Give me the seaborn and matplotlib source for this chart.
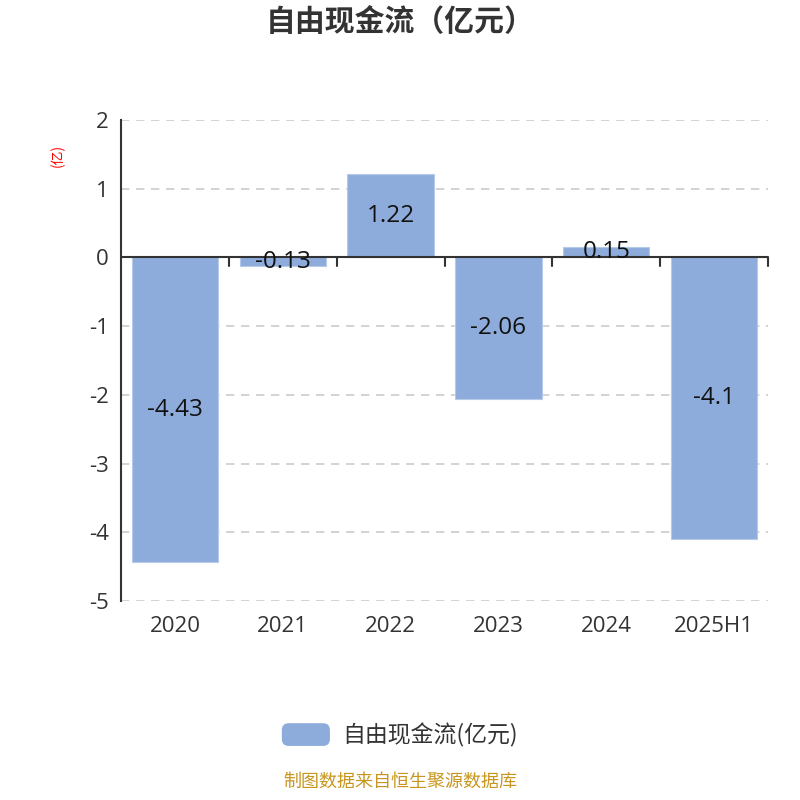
import matplotlib
matplotlib.use("Agg")
import matplotlib.pyplot as plt
import seaborn as sns
import pandas as pd
from matplotlib.patches import FancyBboxPatch
from matplotlib.legend_handler import HandlerPatch

# data
years = ["2020", "2021", "2022", "2023", "2024", "2025H1"]
fcf = [-4.43, -0.13, 1.22, -2.06, 0.15, -4.1]
bar_labels = ["-4.43", "-0.13", "1.22", "-2.06", "0.15", "-4.1"]
yticks = [2, 1, 0, -1, -2, -3, -4, -5]

sns.set_style("white")
plt.rcParams["font.family"] = ["Noto Sans CJK SC", "DejaVu Sans"]
plt.rcParams["axes.unicode_minus"] = False
num_font = ["Open Sans", "Noto Sans CJK SC"]

df = pd.DataFrame({"year": years, "fcf": fcf})
bar_color = "#8eacdb"


class RoundHandler(HandlerPatch):
    # rounded legend swatch like the original
    def create_artists(self, legend, orig_handle, xdescent, ydescent,
                       width, height, fontsize, trans):
        p = FancyBboxPatch((-xdescent, -ydescent), width, height,
                           boxstyle="round,pad=0,rounding_size=5",
                           facecolor=bar_color, edgecolor="none",
                           transform=trans)
        return [p]


fig = plt.figure(figsize=(8, 8), dpi=100)
ax = fig.add_axes([0.15125, 0.24875, 0.80875, 0.60125])

sns.barplot(data=df, x="year", y="fcf", color=bar_color, saturation=1,
            width=0.8, edgecolor="#b5c9e8", linewidth=0.8, ax=ax,
            label="自由现金流(亿元)")

ax.set_ylim(-5, 2)
ax.set_xlim(-0.5, len(years) - 0.5)
ax.set_yticks(yticks)
ax.set_yticklabels([str(v) for v in yticks], fontsize=16, color="#333333",
                   family=num_font)
ax.set_xticks(range(len(years)))
ax.set_xticklabels(years, fontsize=16, color="#333333", family=num_font)
ax.tick_params(axis="y", length=6, width=1.5, color="#333333", pad=3)
ax.tick_params(axis="x", length=0, pad=11)
ax.set_xlabel("")
ax.set_ylabel("")

for v in yticks:
    if v != 0:
        ax.axhline(v, color="#cccccc", lw=1.2, ls=(0, (5, 4)), zorder=0)

for s in ["top", "right", "bottom"]:
    ax.spines[s].set_visible(False)
ax.spines["left"].set_color("#333333")
ax.spines["left"].set_linewidth(1.5)

# category axis line at zero with ticks between categories
ax.axhline(0, color="#333333", lw=1.5, zorder=3)
for i in range(len(years)):
    ax.plot([i + 0.5, i + 0.5], [0, -0.12], color="#333333", lw=1.5,
            zorder=3, clip_on=False)

for i, (v, t) in enumerate(zip(fcf, bar_labels)):
    ax.text(i, v / 2, t, ha="center", va="center", fontsize=17.5,
            color="#111111", zorder=4, family=num_font)

fig.text(0.5, 0.972, "自由现金流（亿元）", ha="center", va="center",
         fontsize=21.5, fontweight="bold", color="#333333")
fig.text(0.0725, 0.806, "(亿)", ha="center", va="center", rotation=90,
         fontsize=10, color="red")

handles, labels = ax.get_legend_handles_labels()
leg = fig.legend(handles[:1], labels[:1], loc="center",
                 bbox_to_anchor=(0.5, 0.081), frameon=False, fontsize=16.5,
                 handlelength=2.1, handleheight=1.15, handletextpad=0.55,
                 handler_map={type(handles[0]): RoundHandler()})
for txt in leg.get_texts():
    txt.set_color("#333333")
if ax.get_legend() is not None:
    ax.get_legend().remove()

fig.text(0.5, 0.012, "制图数据来自恒生聚源数据库", ha="center", va="bottom",
         fontsize=13, color="#c8961e")

fig.savefig("out.png", dpi=100)
